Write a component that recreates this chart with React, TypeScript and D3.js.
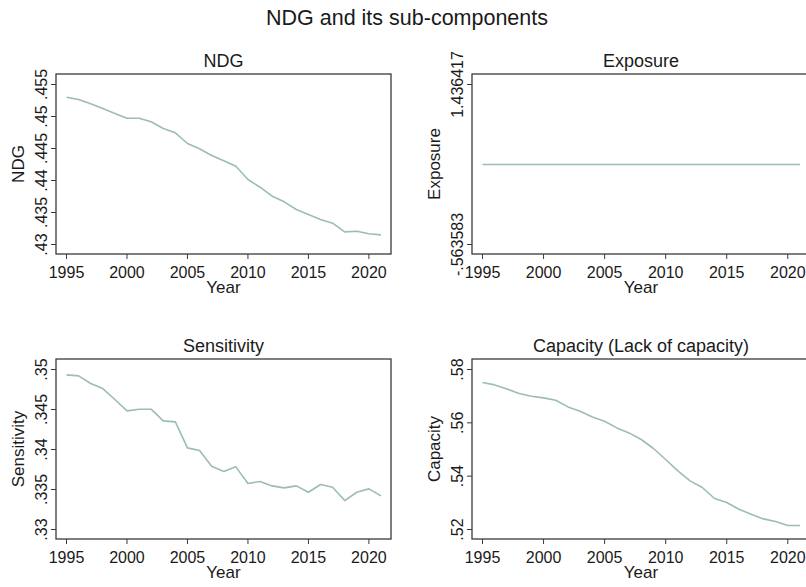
import React from "react";
import * as d3 from "d3";

const years = [1995,1996,1997,1998,1999,2000,2001,2002,2003,2004,2005,2006,2007,2008,2009,2010,2011,2012,2013,2014,2015,2016,2017,2018,2019,2020,2021];

const ndg = [0.4530,0.45266,0.45198,0.45125,0.45047,0.44973,0.44973,0.44917,0.44813,0.44745,0.44578,0.44495,0.44391,0.44307,0.44223,0.44016,0.43895,0.43755,0.43667,0.43547,0.43469,0.43391,0.43333,0.43198,0.43208,0.43167,0.43151];
const exposure = years.map(() => 0.436417);
const sensitivity = [0.34933,0.3492,0.34825,0.34762,0.34625,0.34483,0.34504,0.34504,0.34358,0.34345,0.3402,0.33988,0.33791,0.33725,0.33783,0.33575,0.336,0.33545,0.3352,0.33545,0.33466,0.33562,0.33529,0.33362,0.33466,0.33508,0.3342];
const capacity = [0.57513,0.57423,0.57273,0.571,0.56999,0.56935,0.56849,0.56598,0.56436,0.56222,0.56061,0.5581,0.55622,0.55375,0.55038,0.54625,0.54198,0.53823,0.53575,0.53163,0.53013,0.52761,0.52574,0.52398,0.523,0.5215,0.5215];

const xTicks = [1995, 2000, 2005, 2010, 2015, 2020];
const ndgTicks = [0.43, 0.435, 0.44, 0.445, 0.45, 0.455];
const expTicks = [-0.563583, 1.436417];
const sensTicks = [0.33, 0.335, 0.34, 0.345, 0.35];
const capTicks = [0.52, 0.54, 0.56, 0.58];

const mainTitle = "NDG and its sub-components";

const FONT = "'Liberation Sans', Arial, Helvetica, sans-serif";
const LINE = "#9bbdb4";
const FRAME = "#3a3a3a";
const TXT = "#1a1a1a";

function fmtTick(v: number): string {
  const s = String(+v.toFixed(6));
  return s.replace(/^0\./, ".").replace(/^-0\./, "-.");
}

type PanelProps = {
  x0: number; x1: number; y0: number; y1: number;
  title: string; ytitle: string;
  values: number[]; yTicks: number[];
};

function Panel({ x0, x1, y0, y1, title, ytitle, values, yTicks }: PanelProps) {
  const x = d3.scaleLinear().domain([1995, 2021]).range([x0 + 10.5, x1 - 10]);
  const y = d3.scaleLinear().domain([yTicks[0], yTicks[yTicks.length - 1]]).range([y1 - 9.5, y0 + 10.5]);
  const line = d3.line<number>().x((_, i) => x(years[i])).y((v) => y(v));
  const cx = (x0 + x1) / 2;
  const cy = (y0 + y1) / 2;
  return (
    <g>
      <rect x={x0} y={y0} width={x1 - x0} height={y1 - y0} fill="#fff" stroke={FRAME} strokeWidth={1.3} />
      <text x={cx} y={y0 - 7.5} textAnchor="middle" fontSize={18} fill={TXT} fontFamily={FONT}>{title}</text>
      {yTicks.map((t) => (
        <g key={t}>
          <line x1={x0 - 5} x2={x0} y1={y(t)} y2={y(t)} stroke={FRAME} strokeWidth={1} />
          <text transform={`translate(${x0 - 9},${y(t)}) rotate(-90)`} textAnchor="middle" fontSize={16} fill={TXT} fontFamily={FONT}>{fmtTick(t)}</text>
        </g>
      ))}
      <text transform={`translate(${x0 - 32},${cy}) rotate(-90)`} textAnchor="middle" fontSize={17} fill={TXT} fontFamily={FONT}>{ytitle}</text>
      {xTicks.map((t) => (
        <g key={t}>
          <line x1={x(t)} x2={x(t)} y1={y1} y2={y1 + 5} stroke={FRAME} strokeWidth={1} />
          <text x={x(t)} y={y1 + 24} textAnchor="middle" fontSize={16} fill={TXT} fontFamily={FONT}>{t}</text>
        </g>
      ))}
      <text x={cx} y={y1 + 39} textAnchor="middle" fontSize={17} fill={TXT} fontFamily={FONT}>Year</text>
      <path d={line(values) || ""} fill="none" stroke={LINE} strokeWidth={1.6} strokeLinejoin="round" />
    </g>
  );
}

export default function App() {
  return (
    <svg width={806} height={587} style={{ position: "absolute", left: 0, top: 0, background: "#fff" }}>
      <rect x={0} y={0} width={806} height={587} fill="#fff" />
      <text x={407} y={25} textAnchor="middle" fontSize={21.5} fill={TXT} fontFamily={FONT}>{mainTitle}</text>
      <Panel x0={56} x1={391} y0={74} y1={254} title="NDG" ytitle="NDG" values={ndg} yTicks={ndgTicks} />
      <Panel x0={472} x1={810} y0={74} y1={254} title="Exposure" ytitle="Exposure" values={exposure} yTicks={expTicks} />
      <Panel x0={56} x1={391} y0={359} y1={539} title="Sensitivity" ytitle="Sensitivity" values={sensitivity} yTicks={sensTicks} />
      <Panel x0={472} x1={810} y0={359} y1={539} title="Capacity (Lack of capacity)" ytitle="Capacity" values={capacity} yTicks={capTicks} />
    </svg>
  );
}
